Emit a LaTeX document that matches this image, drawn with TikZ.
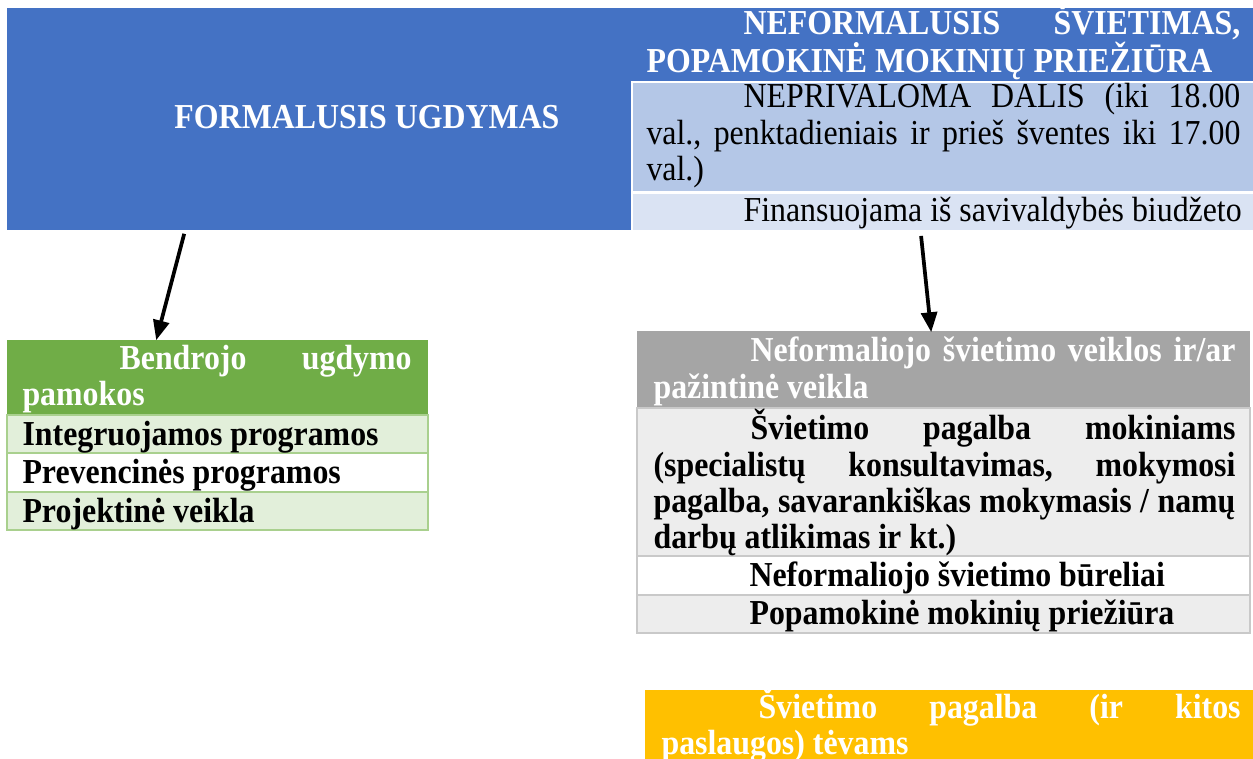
\documentclass[tikz,border=0pt]{standalone}
\usepackage{fontspec}
\setmainfont{Liberation Serif}[FakeStretch=0.91]
\usetikzlibrary{fit,arrows.meta}
\definecolor{cblue}{HTML}{4472C4}
\definecolor{clblue}{HTML}{B4C7E7}
\definecolor{cllblue}{HTML}{DAE3F3}
\definecolor{cgreen}{HTML}{70AD47}
\definecolor{clgreen}{HTML}{E2EFDA}
\definecolor{cgborder}{HTML}{A9D08E}
\definecolor{cgray}{HTML}{A5A5A5}
\definecolor{clgray}{HTML}{EDEDED}
\definecolor{cgrborder}{HTML}{C9C9C9}
\definecolor{corange}{HTML}{FFC000}
\begin{document}
\begin{tikzpicture}[x=0.377pt,y=-0.377pt,
  cell/.style={inner sep=0pt, line width=0.6pt},
  txt/.style={anchor=base west, inner sep=0pt, text=black, font=\fontsize{13.2}{15}\selectfont},
  wb/.style={anchor=base west, inner sep=0pt, text=white, font=\fontsize{13.2}{15}\selectfont\bfseries},
  bb/.style={anchor=base west, inner sep=0pt, text=black, font=\fontsize{13.2}{15}\selectfont\bfseries},
  arr/.style={line width=1.4pt, -{Triangle[length=7.5pt,width=6pt]}}]
\useasboundingbox (0,0) rectangle (1253,759);
\clip (0,0) rectangle (1253,759);
% top blue block
\node[cell, fill=cblue, fit={(7,8)(1253,230)}] (formal) {};
\node[cell, fill=clblue, draw=white, line width=0.7pt, fit={(632,82)(1254,192)}] (neprival) {};
\node[cell, fill=cllblue, draw=white, line width=0.7pt, fit={(632,193)(1254,231)}] (finans) {};
\node[wb, anchor=base] (formaltxt) at (367,129) {FORMALUSIS UGDYMAS};
\node[wb] (t1) at (646,35) {\hbox to 223.9pt{\hskip36.6pt NEFORMALUSIS\hfill ŠVIETIMAS,}};
\node[wb] (t2) at (646,73) {POPAMOKINĖ MOKINIŲ PRIEŽIŪRA};
\node[txt] (n1) at (646,108) {\hbox to 223.9pt{\hskip36.6pt NEPRIVALOMA\hfill DALIS\hfill (iki\hfill 18.00}};
\node[txt] (n2) at (646,145) {\hbox to 223.9pt{val.,\hfill penktadieniais\hfill ir\hfill prieš\hfill šventes\hfill iki\hfill 17.00}};
\node[txt] (n3) at (646,181) {val.)};
\node[txt] (f1) at (743,222) {Finansuojama iš savivaldybės biudžeto};
% green table
\node[cell, fill=cgreen, fit={(7,340)(428,415)}] (bendr) {};
\node[cell, fill=clgreen, draw=cgborder, fit={(7,415)(428,453)}] (integ) {};
\node[cell, fill=white, draw=cgborder, fit={(7,453)(428,492)}] (prev) {};
\node[cell, fill=clgreen, draw=cgborder, fit={(7,492)(428,530)}] (proj) {};
\node[wb] (b1) at (22,370) {\hbox to 146.7pt{\hskip36.6pt Bendrojo\hfill ugdymo}};
\node[wb] (b2) at (22,405) {pamokos};
\node[bb] (i1) at (22,445) {Integruojamos programos};
\node[bb] (p1) at (22,483) {Prevencinės programos};
\node[bb] (pr1) at (22,522) {Projektinė veikla};
% gray table
\node[cell, fill=cgray, fit={(637,331)(1250,408)}] (neform) {};
\node[cell, fill=clgray, draw=cgrborder, fit={(637,408)(1250,556)}] (pagalba) {};
\node[cell, fill=white, draw=cgrborder, fit={(637,556)(1250,595)}] (bur) {};
\node[cell, fill=clgray, draw=cgrborder, fit={(637,595)(1250,633)}] (popam) {};
\node[wb] (g1) at (653,362) {\hbox to 219.4pt{\hskip36.6pt Neformaliojo\hfill švietimo\hfill veiklos\hfill ir/ar}};
\node[wb] (g2) at (653,398) {pažintinė veikla};
\node[bb] (s1) at (653,439) {\hbox to 219.4pt{\hskip36.6pt Švietimo\hfill pagalba\hfill mokiniams}};
\node[bb] (s2) at (653,476) {\hbox to 219.4pt{(specialistų\hfill konsultavimas,\hfill mokymosi}};
\node[bb] (s3) at (653,512) {\hbox to 219.4pt{pagalba,\hfill savarankiškas\hfill mokymasis\hfill /\hfill namų}};
\node[bb] (s4) at (653,548) {darbų atlikimas ir kt.)};
\node[bb] (r2) at (749,586) {Neformaliojo švietimo būreliai};
\node[bb] (r3) at (749,624) {Popamokinė mokinių priežiūra};
% orange
\node[cell, fill=corange, fit={(645,690)(1253,759)}] (tevams) {};
\node[wb] (o1) at (661,718) {\hbox to 218.3pt{\hskip36.6pt Švietimo\hfill pagalba\hfill (ir\hfill kitos}};
\node[wb] (o2) at (661,754) {paslaugos) tėvams};
% arrows
\draw[arr] ([shift={(178,3)}]formal.south west) -- ([shift={(150,1)}]bendr.north west);
\draw[arr] ([shift={(290,4)}]finans.south west) -- ([shift={(295,2)}]neform.north west);
\end{tikzpicture}
\end{document}
